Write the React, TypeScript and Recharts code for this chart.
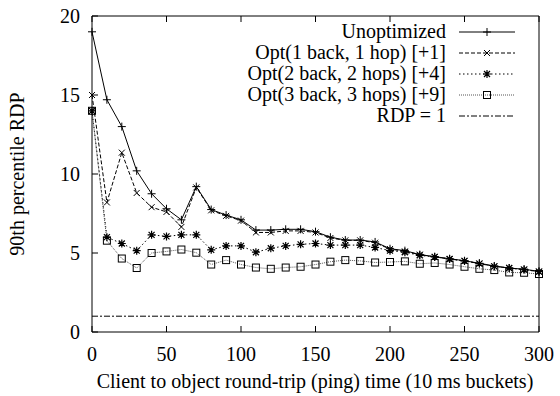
import { LineChart, Line, XAxis, YAxis, ReferenceLine, Legend } from 'recharts';

const buckets = [0, 10, 20, 30, 40, 50, 60, 70, 80, 90, 100, 110, 120, 130, 140, 150, 160, 170, 180, 190, 200, 210, 220, 230, 240, 250, 260, 270, 280, 290, 300];
const unoptimized = [19, 14.7, 13.0, 10.2, 8.75, 7.8, 7.1, 9.2, 7.75, 7.4, 7.1, 6.45, 6.45, 6.5, 6.5, 6.35, 6.0, 5.82, 5.82, 5.7, 5.27, 5.15, 4.9, 4.77, 4.64, 4.51, 4.35, 4.18, 4.05, 3.97, 3.84];
const opt1 = [15, 8.2, 11.35, 8.8, 7.9, 7.6, 6.65, 9.15, 7.7, 7.35, 7.05, 6.3, 6.3, 6.4, 6.4, 6.3, 5.95, 5.8, 5.8, 5.65, 5.25, 5.1, 4.9, 4.75, 4.62, 4.5, 4.33, 4.15, 4.05, 3.95, 3.82];
const opt2 = [14, 6.0, 5.6, 5.15, 6.15, 6.05, 6.15, 6.15, 5.2, 5.45, 5.45, 5.05, 5.3, 5.45, 5.55, 5.6, 5.5, 5.5, 5.5, 5.35, 5.15, 5.05, 4.85, 4.75, 4.62, 4.5, 4.33, 4.15, 4.05, 3.95, 3.82];
const opt3 = [14, 5.78, 4.65, 4.05, 5.0, 5.1, 5.22, 5.02, 4.27, 4.55, 4.27, 4.08, 4.0, 4.08, 4.13, 4.27, 4.45, 4.55, 4.5, 4.4, 4.43, 4.47, 4.32, 4.37, 4.27, 4.13, 4.0, 3.92, 3.77, 3.75, 3.67];
const rdpLevel = 1;

const xTicks = [0, 50, 100, 150, 200, 250, 300];
const yTicks = [0, 5, 10, 15, 20];

const seriesNames = [
  'Unoptimized',
  'Opt(1 back, 1 hop) [+1]',
  'Opt(2 back, 2 hops) [+4]',
  'Opt(3 back, 3 hops) [+9]',
  'RDP = 1',
];

const data = buckets.map((b, i) => ({
  bucket: b,
  unopt: unoptimized[i],
  opt1: opt1[i],
  opt2: opt2[i],
  opt3: opt3[i],
}));

const FONT = '"Liberation Serif", "DejaVu Serif", serif';

// gnuplot style point markers
function marker(kind: string, cx: number, cy: number, key?: string) {
  if (kind === 'plus')
    return <path key={key} d={`M${cx - 4},${cy}h8M${cx},${cy - 4}v8`} stroke="#000" strokeWidth={1} fill="none" />;
  if (kind === 'cross')
    return <path key={key} d={`M${cx - 3},${cy - 3}l6,6M${cx - 3},${cy + 3}l6,-6`} stroke="#000" strokeWidth={1} fill="none" />;
  if (kind === 'star')
    return (
      <path key={key} d={`M${cx - 4},${cy}h8M${cx},${cy - 4}v8M${cx - 3},${cy - 3}l6,6M${cx - 3},${cy + 3}l6,-6`} stroke="#000" strokeWidth={1.2} fill="none" />
    );
  if (kind === 'box')
    return <rect key={key} x={cx - 3.5} y={cy - 3.5} width={7} height={7} stroke="#000" strokeWidth={1} fill="none" />;
  return null;
}

const dotFor = (kind: string) => (p: any) => {
  if (p.cx == null || p.cy == null) return <g key={`e-${p.index}`} />;
  return marker(kind, p.cx, p.cy, `${kind}-${p.index}`);
};

const legendRows = [
  { name: seriesNames[0], dash: undefined, kind: 'plus', color: '#000' },
  { name: seriesNames[1], dash: '4 2', kind: 'cross', color: '#000' },
  { name: seriesNames[2], dash: '1.5 2.5', kind: 'star', color: '#000' },
  { name: seriesNames[3], dash: '1 1', kind: 'box', color: '#555' },
  { name: seriesNames[4], dash: '6 2 2 2', kind: '', color: '#000' },
];

function KeyBox() {
  return (
    <div style={{ fontFamily: FONT, fontSize: 20, color: '#000' }}>
      {legendRows.map((r) => (
        <div key={r.name} style={{ display: 'flex', alignItems: 'center', height: 21 }}>
          <span style={{ flex: 1, textAlign: 'right', whiteSpace: 'nowrap', lineHeight: '21px' }}>{r.name}</span>
          <svg width={56} height={12} style={{ marginLeft: 13 }}>
            <line x1={0} x2={56} y1={6} y2={6} stroke={r.color} strokeWidth={1} strokeDasharray={r.dash} />
            {marker(r.kind, 28, 6)}
          </svg>
        </div>
      ))}
    </div>
  );
}

const XTitle = () => (
  <text x={315} y={388} textAnchor="middle" fontFamily={FONT} fontSize={20} fill="#000">
    Client to object round-trip (ping) time (10 ms buckets)
  </text>
);

const YTitle = () => (
  <text x={0} y={0} transform="translate(24,174) rotate(-90)" textAnchor="middle" fontFamily={FONT} fontSize={20} fill="#000">
    90th percentile RDP
  </text>
);

const tickFont = { fontFamily: FONT, fontSize: 20, fill: '#000' };
const blank = () => '';

export default function App() {
  return (
    <div style={{ position: 'absolute', left: 0, top: 0, background: '#fff' }}>
      <LineChart width={560} height={396} data={data} margin={{ top: 15, right: 20, left: 0, bottom: 0 }}>
        <XAxis
          dataKey="bucket" type="number" domain={[0, 300]} ticks={xTicks} interval={0}
          height={64} tickSize={-6} tickMargin={21} tick={tickFont}
          axisLine={{ stroke: '#000' }} tickLine={{ stroke: '#000' }}
          label={{ content: XTitle }}
        />
        <XAxis
          xAxisId="top" orientation="top" dataKey="bucket" type="number" domain={[0, 300]} ticks={xTicks} interval={0}
          height={1} tickSize={-6} tickFormatter={blank}
          axisLine={{ stroke: '#000' }} tickLine={{ stroke: '#000' }}
        />
        <YAxis
          type="number" domain={[0, 20]} ticks={yTicks} interval={0}
          width={92} tickSize={-6} tickMargin={18} tick={tickFont}
          axisLine={{ stroke: '#000' }} tickLine={{ stroke: '#000' }}
          label={{ content: YTitle }}
        />
        <YAxis
          yAxisId="right" orientation="right" type="number" domain={[0, 20]} ticks={yTicks} interval={0}
          width={1} tickSize={-6} tickFormatter={blank}
          axisLine={{ stroke: '#000' }} tickLine={{ stroke: '#000' }}
        />
        <ReferenceLine y={rdpLevel} stroke="#000" strokeWidth={1} strokeDasharray="6 2 2 2" />
        <Line dataKey="unopt" name={seriesNames[0]} type="linear" stroke="#000" strokeWidth={1}
          dot={dotFor('plus')} activeDot={false} isAnimationActive={false} />
        <Line dataKey="opt1" name={seriesNames[1]} type="linear" stroke="#000" strokeWidth={1} strokeDasharray="4 2"
          dot={dotFor('cross')} activeDot={false} isAnimationActive={false} />
        <Line dataKey="opt2" name={seriesNames[2]} type="linear" stroke="#000" strokeWidth={1} strokeDasharray="1.5 2.5"
          dot={dotFor('star')} activeDot={false} isAnimationActive={false} />
        <Line dataKey="opt3" name={seriesNames[3]} type="linear" stroke="#555" strokeWidth={1} strokeDasharray="1 1"
          dot={dotFor('box')} activeDot={false} isAnimationActive={false} />
        <Legend
          layout="horizontal" verticalAlign="middle" align="center"
          wrapperStyle={{ top: 21, left: 200, width: 315, height: 110 }}
          content={KeyBox}
        />
      </LineChart>
    </div>
  );
}
